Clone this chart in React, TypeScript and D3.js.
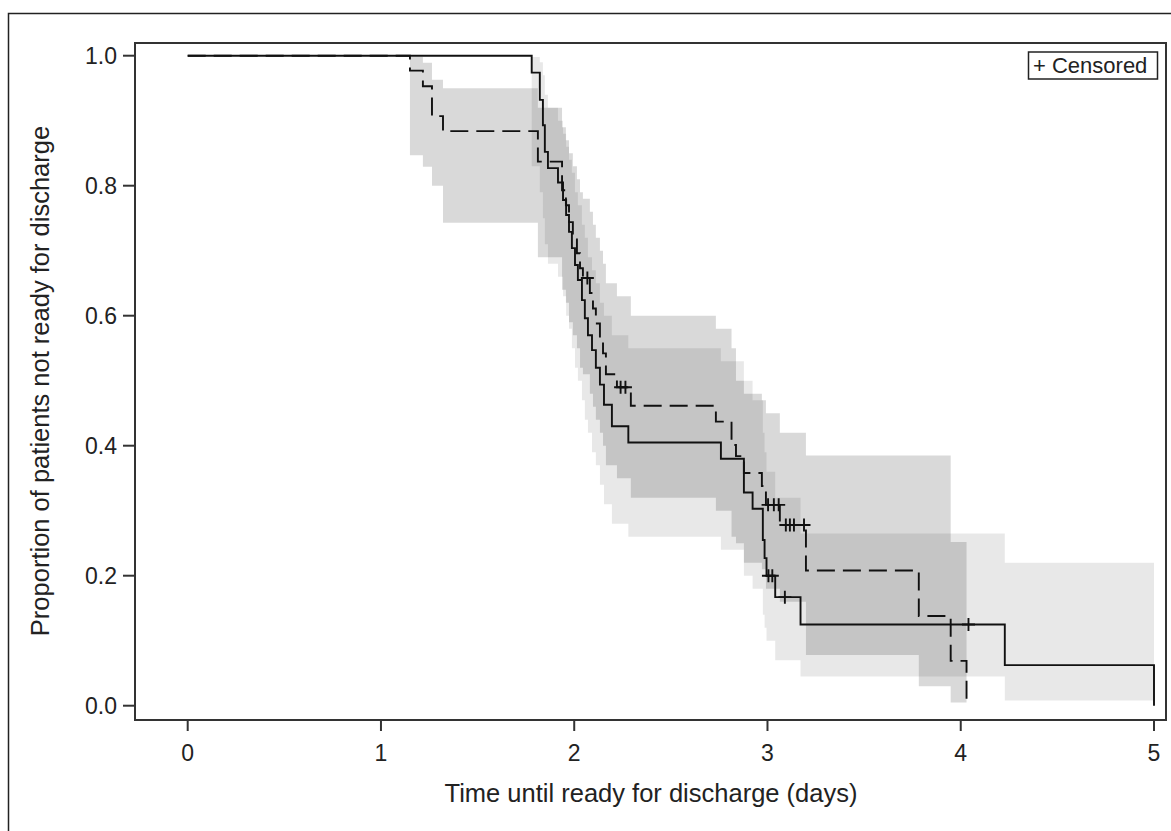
import React from 'react';
import * as d3 from 'd3';

// Kaplan-Meier steps, group 1 (solid line)
const solidTimes = [1.78, 1.822, 1.838, 1.848, 1.864, 1.916, 1.942, 1.958, 1.973, 1.988, 2.004, 2.019, 2.04, 2.055, 2.071, 2.092, 2.112, 2.133, 2.154, 2.195, 2.28, 2.759, 2.878, 2.923, 2.976, 2.985, 2.995, 3.04, 3.171, 4.228, 5.0];
const solidSurv = [0.974, 0.932, 0.893, 0.852, 0.827, 0.805, 0.778, 0.755, 0.729, 0.704, 0.678, 0.655, 0.624, 0.596, 0.57, 0.547, 0.52, 0.494, 0.463, 0.43, 0.405, 0.38, 0.328, 0.303, 0.255, 0.227, 0.2, 0.167, 0.125, 0.0625, 0];
const solidUpper = [0.998, 0.99, 0.97, 0.94, 0.92, 0.9, 0.88, 0.86, 0.84, 0.82, 0.79, 0.77, 0.74, 0.72, 0.69, 0.67, 0.65, 0.62, 0.6, 0.57, 0.55, 0.53, 0.5, 0.47, 0.42, 0.39, 0.36, 0.32, 0.265, 0.22, 0.22];
const solidLower = [0.83, 0.79, 0.75, 0.71, 0.68, 0.66, 0.63, 0.6, 0.58, 0.55, 0.52, 0.5, 0.47, 0.44, 0.42, 0.39, 0.37, 0.34, 0.31, 0.28, 0.26, 0.24, 0.2, 0.18, 0.14, 0.12, 0.1, 0.07, 0.045, 0.008, 0.008];
const solidCensor = [3.005, 3.025, 3.09, 4.04];

// group 2 (dashed line)
const dashedTimes = [1.15, 1.217, 1.264, 1.321, 1.812, 1.937, 1.957, 1.973, 1.993, 2.014, 2.03, 2.045, 2.081, 2.097, 2.112, 2.133, 2.149, 2.164, 2.221, 2.293, 2.733, 2.814, 2.837, 2.878, 2.971, 2.992, 3.064, 3.199, 3.783, 3.948, 4.03];
const dashedSurv = [0.977, 0.953, 0.907, 0.884, 0.837, 0.793, 0.77, 0.744, 0.719, 0.696, 0.673, 0.658, 0.635, 0.611, 0.588, 0.566, 0.542, 0.51, 0.49, 0.4615, 0.437, 0.401, 0.384, 0.358, 0.338, 0.309, 0.278, 0.208, 0.138, 0.069, 0];
const dashedUpper = [0.998, 0.989, 0.963, 0.95, 0.92, 0.89, 0.87, 0.85, 0.83, 0.81, 0.79, 0.78, 0.76, 0.74, 0.72, 0.7, 0.68, 0.65, 0.63, 0.6, 0.58, 0.55, 0.5, 0.48, 0.47, 0.45, 0.42, 0.385, 0.385, 0.252, 0.252];
const dashedLower = [0.847, 0.829, 0.8, 0.743, 0.69, 0.64, 0.62, 0.59, 0.57, 0.55, 0.52, 0.51, 0.48, 0.46, 0.44, 0.42, 0.4, 0.37, 0.35, 0.32, 0.3, 0.26, 0.25, 0.22, 0.21, 0.18, 0.16, 0.078, 0.03, 0.005, 0.005];
const dashedCensor = [2.068, 2.24, 2.265, 3.003, 3.033, 3.058, 3.095, 3.116, 3.137, 3.189];

const xTicks = [0, 1, 2, 3, 4, 5];
const yTicks = [0, 0.2, 0.4, 0.6, 0.8, 1.0];

const FONT = '"Liberation Sans", Arial, sans-serif';

const x = d3.scaleLinear().domain([0, 5]).range([187.7, 1154]);
const y = d3.scaleLinear().domain([0, 1]).range([705.7, 55.7]);

const plot = { left: 135, right: 1166, top: 43, bottom: 720 };

type Pt = [number, number];

const stepLine = d3.line<Pt>().x(d => x(d[0])).y(d => y(d[1])).curve(d3.curveStepAfter);
const stepArea = d3.area<{ t: number; u: number; l: number }>()
  .x(d => x(d.t))
  .y0(d => y(d.l))
  .y1(d => y(d.u))
  .curve(d3.curveStepAfter);

function survAt(times: number[], surv: number[], t: number) {
  let s = 1;
  times.forEach((tt, i) => { if (tt <= t) s = surv[i]; });
  return s;
}

function bandData(times: number[], upper: number[], lower: number[], end: number) {
  const pts = times.map((t, i) => ({ t, u: upper[i], l: lower[i] }));
  const last = pts[pts.length - 1];
  if (last.t < end) pts.push({ t: end, u: last.u, l: last.l });
  return pts;
}

const App = () => {
  const solidPts: Pt[] = [[0, 1], ...solidTimes.map((t, i) => [t, solidSurv[i]] as Pt)];
  const dashedPts: Pt[] = [[0, 1], ...dashedTimes.map((t, i) => [t, dashedSurv[i]] as Pt)];

  // last step time doubles as the curve end
  const solidBand = bandData(solidTimes.slice(0, -1), solidUpper, solidLower, 5.0);
  const dashedBand = bandData(dashedTimes.slice(0, -1), dashedUpper, dashedLower, 4.03);

  const plus = (cx: number, cy: number, key: string) => (
    <path key={key} d={`M${cx - 6.5},${cy}H${cx + 6.5}M${cx},${cy - 6.5}V${cy + 6.5}`} stroke="#111" strokeWidth={1.9} fill="none" />
  );

  return (
    <svg width={1171} height={831} style={{ position: 'absolute', left: 0, top: 0, background: '#fff' }} fontFamily={FONT}>
      <rect x={8.5} y={13.5} width={1200} height={900} fill="none" stroke="#222" strokeWidth={1.5} />

      <path d={stepArea(solidBand) || ''} fill="#000" fillOpacity={0.09} />
      <path d={stepArea(dashedBand) || ''} fill="#000" fillOpacity={0.15} />

      <path d={stepLine(solidPts) || ''} fill="none" stroke="#111" strokeWidth={1.9} />
      <path d={stepLine(dashedPts) || ''} fill="none" stroke="#111" strokeWidth={1.9} strokeDasharray="18 8" />

      {solidCensor.map((t, i) => plus(x(t), y(survAt(solidTimes, solidSurv, t)), 's' + i))}
      {dashedCensor.map((t, i) => plus(x(t), y(survAt(dashedTimes, dashedSurv, t)), 'd' + i))}

      <rect x={plot.left} y={plot.top} width={plot.right - plot.left} height={plot.bottom - plot.top} fill="none" stroke="#333" strokeWidth={2} />

      {yTicks.map(v => (
        <g key={'y' + v}>
          <line x1={123} x2={plot.left} y1={y(v)} y2={y(v)} stroke="#333" strokeWidth={2} />
          <text x={117} y={y(v)} dy="0.36em" textAnchor="end" fontSize={23} fill="#222">{v.toFixed(1)}</text>
        </g>
      ))}
      {xTicks.map(v => (
        <g key={'x' + v}>
          <line x1={x(v)} x2={x(v)} y1={plot.bottom} y2={731} stroke="#333" strokeWidth={2} />
          <text x={x(v)} y={761} textAnchor="middle" fontSize={23} fill="#222">{v}</text>
        </g>
      ))}

      <text x={651} y={802} textAnchor="middle" fontSize={25.5} fill="#222">Time until ready for discharge (days)</text>
      <text transform="translate(49,381) rotate(-90)" textAnchor="middle" fontSize={25.5} fill="#222">Proportion of patients not ready for discharge</text>

      <rect x={1028.5} y={52} width={129} height={27} fill="#fff" stroke="#222" strokeWidth={1.5} />
      <text x={1033} y={73} fontSize={22} fill="#222">+ Censored</text>
    </svg>
  );
};

export default App;
